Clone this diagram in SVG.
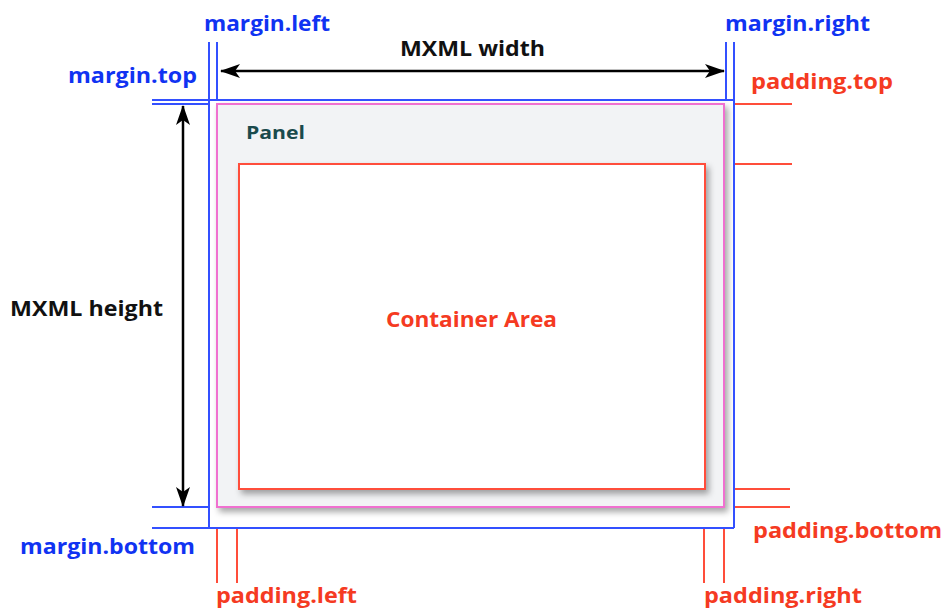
<svg xmlns="http://www.w3.org/2000/svg" width="943" height="610" viewBox="0 0 943 610">
<defs>
<marker id="ah" viewBox="0 0 20 14" refX="19" refY="7" markerWidth="20" markerHeight="14" markerUnits="userSpaceOnUse" orient="auto-start-reverse">
<path d="M0,0 L20,7 L0,14 L5,7 Z" fill="#000"/>
</marker>
<filter id="sh" x="-10%" y="-10%" width="120%" height="120%">
<feDropShadow dx="3" dy="4" stdDeviation="3" flood-color="#000" flood-opacity="0.35"/>
</filter>
</defs>
<style>
.t{font-family:"Open Sans","Liberation Sans",sans-serif;font-weight:bold;font-size:22px}
.b{fill:#1033f2}
.r{fill:#f53a22}
.k{fill:#111}
.bl{stroke:#3350ff;stroke-width:2;fill:none}
.rl{stroke:#ff4d3a;stroke-width:2;fill:none}
</style>
<rect width="943" height="610" fill="#fff"/>
<g id="panel">
<rect x="217" y="104" width="507" height="403" fill="#f2f3f5" stroke="#f070d0" stroke-width="2" filter="url(#sh)"/>
<text x="246" y="139" font-family="Open Sans, Liberation Sans, sans-serif" font-weight="bold" font-size="17" fill="#1a4a4c" textLength="59" lengthAdjust="spacingAndGlyphs">Panel</text>
</g>
<g id="container">
<rect x="239" y="164" width="466" height="325" fill="#fff" stroke="#ff4d3a" stroke-width="2" filter="url(#sh)"/>
<text class="t r" x="386" y="327" textLength="171" lengthAdjust="spacingAndGlyphs">Container Area</text>
</g>
<g id="margins">
<path class="bl" d="M209,42 V528 M217,42 V100 M726,42 V100 M734,42 V528 M152,100 H734 M152,104 H209 M152,507 H209 M152,528 H734"/>
</g>
<g id="paddings">
<path class="rl" d="M735,104 H792 M735,164 H792 M735,489 H790 M735,507 H790 M217,529 V583 M237,529 V583 M704,529 V583 M724,529 V583"/>
</g>
<g id="connectors">
<line x1="221" y1="71" x2="724" y2="71" stroke="#000" stroke-width="2.5" marker-start="url(#ah)" marker-end="url(#ah)"/>
<line x1="183" y1="106" x2="183" y2="506" stroke="#000" stroke-width="2.5" marker-start="url(#ah)" marker-end="url(#ah)"/>
</g>
<g id="labels">
<text class="t b" x="204" y="31" textLength="126" lengthAdjust="spacingAndGlyphs">margin.left</text>
<text class="t k" x="400" y="56" textLength="145" lengthAdjust="spacingAndGlyphs">MXML width</text>
<text class="t b" x="725" y="31" textLength="145" lengthAdjust="spacingAndGlyphs">margin.right</text>
<text class="t b" x="68" y="83" textLength="129" lengthAdjust="spacingAndGlyphs">margin.top</text>
<text class="t r" x="751" y="89" textLength="142" lengthAdjust="spacingAndGlyphs">padding.top</text>
<text class="t k" x="10" y="316" textLength="153" lengthAdjust="spacingAndGlyphs">MXML height</text>
<text class="t b" x="20" y="554" textLength="175" lengthAdjust="spacingAndGlyphs">margin.bottom</text>
<text class="t r" x="753" y="538" textLength="189" lengthAdjust="spacingAndGlyphs">padding.bottom</text>
<text class="t r" x="216" y="603" textLength="141" lengthAdjust="spacingAndGlyphs">padding.left</text>
<text class="t r" x="704" y="603" textLength="158" lengthAdjust="spacingAndGlyphs">padding.right</text>
</g>
</svg>
